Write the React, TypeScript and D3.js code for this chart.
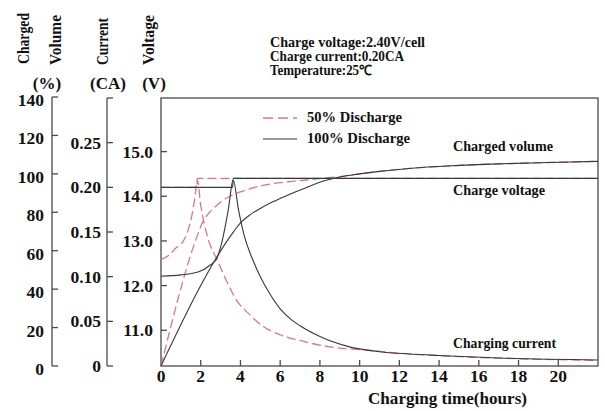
import React from 'react';
import * as d3 from 'd3';

// ---- tick labels ----
const timeTicks = [0, 2, 4, 6, 8, 10, 12, 14, 16, 18, 20];
const volumeTicks = [0, 20, 40, 60, 80, 100, 120, 140];
const currentTicks = [0, 0.05, 0.1, 0.15, 0.2, 0.25];
const currentTickLabels = ['0', '0.05', '0.10', '0.15', '0.20', '0.25'];
const voltageTicks = [11, 12, 13, 14, 15];
const voltageTickLabels = ['11.0', '12.0', '13.0', '14.0', '15.0'];

// ---- series: [hours, value] ----
// 50% discharge (pink dashed)
const voltage50: [number, number][] = [
  [0, 12.58], [0.4, 12.68], [0.75, 12.84], [1.1, 12.98], [1.35, 13.22], [1.55, 13.56],
  [1.7, 13.95], [1.84, 14.4], [4, 14.4], [22, 14.4],
];
const current50: [number, number][] = [
  [0, 0.2], [1.8, 0.2], [1.83, 0.208], [2.0, 0.18], [2.2, 0.157], [2.4, 0.14], [2.8, 0.12],
  [3.2, 0.1], [3.5, 0.086], [3.85, 0.072], [4.35, 0.06], [5.1, 0.045], [6.0, 0.035],
  [6.9, 0.029], [8.5, 0.0215], [10.2, 0.018], [12.5, 0.0135], [14, 0.0115], [17, 0.0088], [22, 0.0062],
];
const volume50: [number, number][] = [
  [0, 0], [1.85, 68.5], [2.1, 75], [2.4, 79.5], [2.8, 83.5], [3.1, 86], [3.6, 89], [4.2, 91.3],
  [4.8, 93.2], [5.5, 94.7], [6.4, 95.9], [7.3, 96.8], [8.2, 97.8], [9, 98.6], [10, 100],
  [11, 101.3], [12.5, 102.8], [14.6, 104.2], [17, 105.2], [19.5, 105.9], [22, 106.5],
];
// 100% discharge (black solid)
const voltage100: [number, number][] = [
  [0, 12.21], [1, 12.24], [1.9, 12.31], [2.45, 12.45], [2.8, 12.6], [3.08, 13.0],
  [3.38, 13.68], [3.65, 14.4], [22, 14.4],
];
const current100: [number, number][] = [
  [0, 0.2], [3.6, 0.2], [3.64, 0.208], [3.9, 0.175], [4.2, 0.145], [4.6, 0.12], [5.0, 0.1],
  [5.5, 0.08], [6.0, 0.064], [6.5, 0.053], [7.0, 0.045], [8.0, 0.033], [9.4, 0.022],
  [11, 0.016], [12.5, 0.0135], [14, 0.0118], [17, 0.009], [22, 0.0068],
];
const volume100: [number, number][] = [
  [0, 0], [3.65, 69.8], [4.0, 74.5], [4.5, 78.8], [5.0, 82], [5.6, 85.3], [6.4, 89],
  [7.3, 92.8], [8.1, 96], [9, 98.4], [10, 100], [11, 101.3], [12.5, 102.8], [14.6, 104.2],
  [17, 105.2], [19.5, 105.9], [22, 106.5],
];

const legendLabels = ['50% Discharge', '100% Discharge'];
const conditionLines = ['Charge voltage:2.40V/cell', 'Charge current:0.20CA', 'Temperature:25\u2103'];

const PINK = '#d6788e';
const BLACK = '#383838';
const AXIS = '#4a4a4a';
const FONT = '"Liberation Serif", "Times New Roman", serif';

export default function App() {
  const x = d3.scaleLinear().domain([0, 22]).range([161, 598]);
  const yVol = d3.scaleLinear().domain([0, 140]).range([366, 97]);
  const yCur = d3.scaleLinear().domain([0, 0.3]).range([366, 98]);
  const yVolt = d3.scaleLinear().domain([10.2, 16.2]).range([366, 98]);

  const mk = (ys: d3.ScaleLinear<number, number>) =>
    d3.line<[number, number]>().x((d) => x(d[0])).y((d) => ys(d[1])).curve(d3.curveMonotoneX);

  const lineVol = mk(yVol);
  const lineCur = mk(yCur);
  const lineVolt = mk(yVolt);

  const plotL = x(0);
  const plotR = x(22);
  const plotT = 98;
  const plotB = 366;

  const tickFont = 17.5;

  return (
    <svg
      width={605}
      height={411}
      style={{ position: 'absolute', left: 0, top: 0, background: '#fff' }}
      fontFamily={FONT}
      fontWeight="bold"
    >
      <rect x={0} y={0} width={605} height={411} fill="#fff" />

      {/* axis titles (rotated) */}
      <g fill="#111" fontSize={17.5}>
        <text transform="translate(29,64) rotate(-90)" textLength={51} lengthAdjust="spacingAndGlyphs">Charged</text>
        <text transform="translate(61,65) rotate(-90)" textLength={50} lengthAdjust="spacingAndGlyphs">Volume</text>
        <text transform="translate(108,65) rotate(-90)" textLength={47} lengthAdjust="spacingAndGlyphs">Current</text>
        <text transform="translate(154,65) rotate(-90)" textLength={50} lengthAdjust="spacingAndGlyphs">Voltage</text>
      </g>
      <g fill="#111" fontSize={17} textAnchor="middle">
        <text x={47} y={89}>(%)</text>
        <text x={108} y={89}>(CA)</text>
        <text x={154} y={89}>(V)</text>
      </g>

      {/* condition text */}
      <g fill="#111" fontSize={14}>
        {conditionLines.map((t, i) => (
          <text key={t} x={270} y={47 + i * 14} textLength={[155, 134, 102][i]} lengthAdjust="spacingAndGlyphs">
            {t}
          </text>
        ))}
      </g>

      {/* volume axis */}
      <g stroke={AXIS} strokeWidth={1.3} fill="none">
        <line x1={52} x2={52} y1={yVol(0)} y2={yVol(140)} />
        {volumeTicks.map((t) => (
          <line key={t} x1={52} x2={58} y1={yVol(t)} y2={yVol(t)} />
        ))}
      </g>
      <g fill="#111" fontSize={tickFont} textAnchor="end">
        {volumeTicks.map((t) => (
          <text key={t} x={44} y={yVol(t) + 3} dy="0.34em">{t}</text>
        ))}
      </g>

      {/* current axis */}
      <g stroke={AXIS} strokeWidth={1.3} fill="none">
        <line x1={107} x2={107} y1={yCur(0)} y2={yCur(0.3)} />
        {[...currentTicks, 0.3].map((t) => (
          <line key={t} x1={107} x2={113} y1={yCur(t)} y2={yCur(t)} />
        ))}
      </g>
      <g fill="#111" fontSize={tickFont} textAnchor="end">
        {currentTicks.map((t, i) => (
          <text key={t} x={101} y={yCur(t)} dy="0.34em">{currentTickLabels[i]}</text>
        ))}
      </g>

      {/* voltage axis labels + inward ticks */}
      <g stroke={AXIS} strokeWidth={1.3}>
        {voltageTicks.map((t) => (
          <line key={t} x1={plotL} x2={plotL + 6} y1={yVolt(t)} y2={yVolt(t)} />
        ))}
      </g>
      <g fill="#111" fontSize={tickFont} textAnchor="end">
        {voltageTicks.map((t, i) => (
          <text key={t} x={153} y={yVolt(t)} dy="0.34em">{voltageTickLabels[i]}</text>
        ))}
      </g>

      {/* plot frame */}
      <rect x={plotL} y={plotT} width={plotR - plotL} height={plotB - plotT} fill="none" stroke={AXIS} strokeWidth={1.3} />

      {/* x axis ticks + labels */}
      <g stroke={AXIS} strokeWidth={1.3}>
        {timeTicks.filter((t) => t > 0).map((t) => (
          <line key={t} x1={x(t)} x2={x(t)} y1={plotB} y2={plotB - 6} />
        ))}
      </g>
      <g fill="#111" fontSize={tickFont} textAnchor="middle">
        {timeTicks.map((t) => (
          <text key={t} x={x(t)} y={382}>{t}</text>
        ))}
      </g>
      <text x={368} y={404} fill="#111" fontSize={17} textLength={159} lengthAdjust="spacingAndGlyphs">
        Charging time(hours)
      </text>

      {/* series: 50% discharge */}
      <g fill="none" stroke={PINK} strokeWidth={1.3} strokeDasharray="9,4">
        <path d={lineCur(current50) || ''} />
        <path d={lineVolt(voltage50) || ''} />
        <path d={lineVol(volume50) || ''} />
      </g>
      {/* series: 100% discharge */}
      <g fill="none" stroke={BLACK} strokeWidth={1.1}>
        <path d={lineCur(current100) || ''} />
        <path d={lineVolt(voltage100) || ''} />
        <path d={lineVol(volume100) || ''} />
      </g>

      {/* legend */}
      <line x1={263} x2={297} y1={118} y2={118} stroke={PINK} strokeWidth={1.3} strokeDasharray="10,5" />
      <line x1={263} x2={297} y1={139} y2={139} stroke={BLACK} strokeWidth={1.1} />
      <g fill="#111" fontSize={14}>
        <text x={307} y={122} textLength={95} lengthAdjust="spacingAndGlyphs">{legendLabels[0]}</text>
        <text x={307} y={143} textLength={103} lengthAdjust="spacingAndGlyphs">{legendLabels[1]}</text>
      </g>

      {/* curve annotations */}
      <g fill="#111" fontSize={14}>
        <text x={453} y={151} textLength={100} lengthAdjust="spacingAndGlyphs">Charged volume</text>
        <text x={453} y={195} textLength={92} lengthAdjust="spacingAndGlyphs">Charge voltage</text>
        <text x={453} y={348} textLength={103} lengthAdjust="spacingAndGlyphs">Charging current</text>
      </g>
    </svg>
  );
}
